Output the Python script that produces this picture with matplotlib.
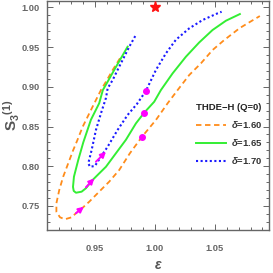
import matplotlib
matplotlib.use("Agg")
import matplotlib.pyplot as plt
from matplotlib.ticker import MultipleLocator

# curves (epsilon, S3^(1))
orange_x = [0.9707, 0.9646, 0.9590, 0.9548, 0.9478, 0.9395, 0.9351, 0.9316, 0.9274, 0.9232,
            0.9199, 0.9175, 0.9175, 0.9205, 0.9246, 0.9303, 0.9338, 0.9380, 0.9450, 0.9533,
            0.9617, 0.9701, 0.9790, 0.9893, 1.0008, 1.0106, 1.0190, 1.0287, 1.0385, 1.0482,
            1.0580, 1.0710, 1.0822, 1.0878]
orange_y = [0.9358, 0.9211, 0.9064, 0.8959, 0.8749, 0.8497, 0.8330, 0.8204, 0.8037, 0.7869,
            0.7701, 0.7534, 0.7428, 0.7358, 0.7333, 0.7358, 0.7408, 0.7458, 0.7554, 0.7680,
            0.7806, 0.7953, 0.8163, 0.8374, 0.8582, 0.8792, 0.8959, 0.9148, 0.9295, 0.9462,
            0.9588, 0.9739, 0.9840, 0.9890]

green_x = [0.9771, 0.9715, 0.9659, 0.9604, 0.9564, 0.9533, 0.9464, 0.9400, 0.9358, 0.9322,
           0.9314, 0.9320, 0.9339, 0.9386, 0.9422, 0.9478, 0.9530, 0.9590, 0.9673, 0.9757,
           0.9841, 0.9910, 0.9994, 1.0050, 1.0148, 1.0259, 1.0370, 1.0482, 1.0594, 1.0711]
green_y = [0.9504, 0.9358, 0.9211, 0.9064, 0.8959, 0.8792, 0.8585, 0.8300, 0.8079, 0.7869,
           0.7740, 0.7690, 0.7667, 0.7680, 0.7723, 0.7827, 0.7905, 0.7994, 0.8163, 0.8333,
           0.8540, 0.8674, 0.8812, 0.8959, 0.9169, 0.9378, 0.9557, 0.9714, 0.9831, 0.9915]

blue_x = [0.9835, 0.9785, 0.9743, 0.9687, 0.9646, 0.9604, 0.9590, 0.9548, 0.9506, 0.9470,
          0.9442, 0.9456, 0.9497, 0.9548, 0.9604, 0.9687, 0.9771, 0.9849, 0.9924, 1.0008,
          1.0092, 1.0175, 1.0287, 1.0399, 1.0524, 1.0558]
blue_y = [0.9638, 0.9504, 0.9378, 0.9211, 0.9085, 0.8980, 0.8860, 0.8666, 0.8456, 0.8204,
          0.8037, 0.7994, 0.8003, 0.8120, 0.8246, 0.8456, 0.8645, 0.8783, 0.8947, 0.9211,
          0.9421, 0.9591, 0.9735, 0.9840, 0.9924, 0.9944]

labels = ["$\\delta$=1.60", "$\\delta$=1.65", "$\\delta$=1.70"]

# magenta points and arrows
dot_x = [0.9893, 0.9910, 0.9924]
dot_y = [0.8374, 0.8674, 0.8947]
arrow_tail_x = [0.9338, 0.9422, 0.9506]
arrow_tail_y = [0.7408, 0.7735, 0.8057]
arrow_head_x = [0.9405, 0.9492, 0.9590]
arrow_head_y = [0.7491, 0.7848, 0.8183]

star_x, star_y = 1.0, 1.0

plt.rcParams['font.family'] = ['Liberation Sans', 'DejaVu Sans']
plt.rcParams['mathtext.fontset'] = 'custom'
plt.rcParams['mathtext.rm'] = 'Liberation Sans:bold'
plt.rcParams['mathtext.it'] = 'Liberation Sans:bold:italic'
plt.rcParams['mathtext.bf'] = 'Liberation Sans:bold'

gray = '#666666'

fig = plt.figure(figsize=(2.73, 2.73), dpi=100)
ax = fig.add_axes([0.172, 0.1575, 0.813, 0.8405])

ax.plot(orange_x, orange_y, color='#FF8C1A', lw=1.3, linestyle=(0, (3, 2)), label=labels[0])
ax.plot(green_x, green_y, color='#33EE33', lw=1.4, label=labels[1])
ax.plot(blue_x, blue_y, color='#1A1AFF', lw=1.5, linestyle=(0, (1, 1.2)), label=labels[2])

for tx, ty, hx, hy in zip(arrow_tail_x, arrow_tail_y, arrow_head_x, arrow_head_y):
    ax.annotate('', xy=(hx, hy), xytext=(tx, ty),
                arrowprops=dict(arrowstyle='-|>', color='#FF00FF', lw=1.4,
                                mutation_scale=8, shrinkA=0, shrinkB=0))
ax.plot(dot_x, dot_y, 'o', color='#FF00FF', ms=4, zorder=5)
ax.plot([star_x], [star_y], '*', color='#FF1111', ms=8, zorder=5, clip_on=False)

ax.set_xlim(0.9096, 1.0954)
ax.set_ylim(0.7198, 1.0085)
ax.xaxis.set_major_locator(MultipleLocator(0.05))
ax.xaxis.set_minor_locator(MultipleLocator(0.01))
ax.yaxis.set_major_locator(MultipleLocator(0.05))
ax.yaxis.set_minor_locator(MultipleLocator(0.01))
ax.xaxis.set_major_formatter(plt.FuncFormatter(lambda v, p: '%.2f' % v))
ax.yaxis.set_major_formatter(plt.FuncFormatter(lambda v, p: '%.2f' % v))
ax.tick_params(which='both', direction='in', top=True, right=True, color=gray,
               labelsize=6.7, labelcolor=gray, width=0.7)
ax.tick_params(which='major', length=4, pad=10)
ax.tick_params(which='minor', length=2)
for lab in ax.get_xticklabels() + ax.get_yticklabels():
    lab.set_fontweight('bold')
ax.tick_params(axis='y', pad=5)
for s in ax.spines.values():
    s.set_color(gray)
    s.set_linewidth(1.0)

ax.set_xlabel('$\\epsilon$', fontsize=10, color='#555555', labelpad=4)
ax.set_ylabel('$\\mathbf{S_3}^{\\mathbf{(1)}}$', fontsize=11, color='#555555', labelpad=0)

leg = ax.legend(loc='lower right', bbox_to_anchor=(1.0, 0.25), frameon=False,
                title='THDE\u2212H (Q=0)', fontsize=6.8, handlelength=3.2,
                handletextpad=0.5, labelspacing=0.75, borderaxespad=0.3)
leg.get_title().set_fontweight('bold')
leg.get_title().set_fontsize(6.8)
leg.get_title().set_color('#222222')
for t in leg.get_texts():
    t.set_color('#333333')
    t.set_fontweight('bold')

fig.savefig('out.png', dpi=100)
